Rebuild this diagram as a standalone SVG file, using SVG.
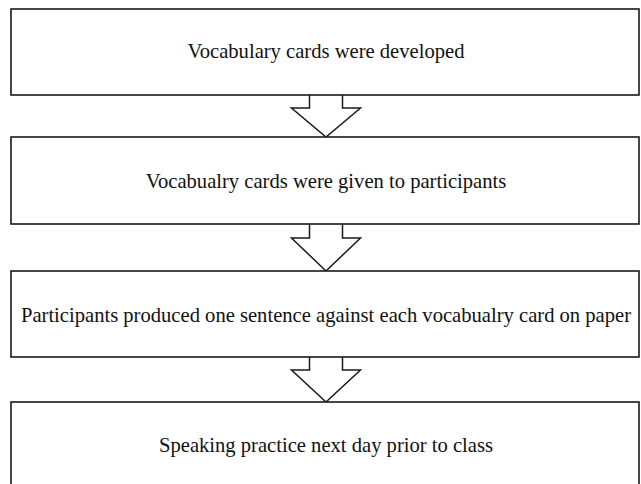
<svg xmlns="http://www.w3.org/2000/svg" width="641" height="484" viewBox="0 0 641 484">
<style>
.box{fill:#fff;stroke:#1a1a1a;stroke-width:1.6}
.arr{fill:#fff;stroke:#1a1a1a;stroke-width:1.5;stroke-linejoin:miter}
.t{font-family:"Liberation Serif","Times New Roman",serif;font-size:20.6px;fill:#111;text-anchor:middle}
</style>
<rect width="641" height="484" fill="#fff"/>
<g id="connectors">
<path class="arr" d="M309.5,95 V108 H291.5 L326,137 L360.5,108 H342.5 V95"/>
<path class="arr" d="M309.5,224 V238 H291.5 L326,271 L360.5,238 H342.5 V224"/>
<path class="arr" d="M309.5,357 V370 H291.5 L326,402 L360.5,370 H342.5 V357"/>
</g>
<g id="n1"><rect class="box" x="11" y="9" width="628" height="86"/><text class="t" x="326" y="58">Vocabulary cards were developed</text></g>
<g id="n2"><rect class="box" x="11" y="137" width="628" height="87"/><text class="t" x="326" y="188">Vocabualry cards were given to participants</text></g>
<g id="n3"><rect class="box" x="11" y="271" width="628" height="86"/><text class="t" x="326" y="322">Participants produced one sentence against each vocabualry card on paper</text></g>
<g id="n4"><rect class="box" x="11" y="402" width="628" height="90"/><text class="t" x="326" y="452">Speaking practice next day prior to class</text></g>
</svg>
